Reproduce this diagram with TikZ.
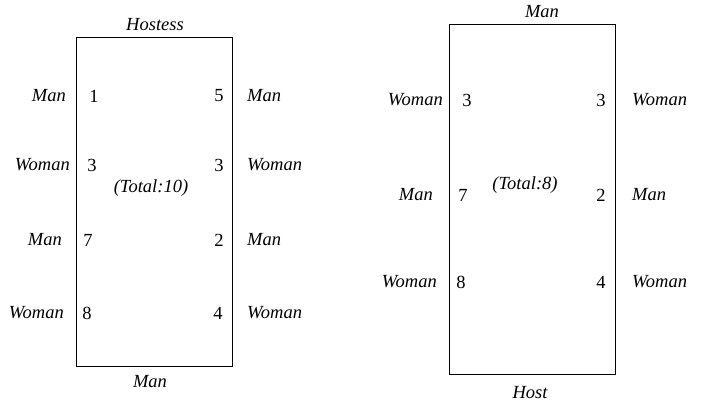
\documentclass[tikz,border=0pt]{standalone}
\usepackage{fontspec}
\setmainfont{Liberation Serif}
\begin{document}
\begin{tikzpicture}[x=1pt,y=-1pt,
  lab/.style={font=\fontsize{18.5}{22}\selectfont\itshape, inner sep=0pt},
  num/.style={font=\fontsize{18.5}{22}\selectfont, inner sep=0pt},
  tbl/.style={draw=black, line width=1pt}]
\useasboundingbox (0,0) rectangle (704,404);
% left table
\draw[tbl] (76,38) rectangle (232,366);
\node[lab] (lh) at (155,25) {Hostess};
\node[lab] (lb) at (150,382) {Man};
\node[lab,anchor=east] (l1) at (66,96) {Man};
\node[lab,anchor=east] (l2) at (70,165) {Woman};
\node[lab,anchor=east] (l3) at (62,240) {Man};
\node[lab,anchor=east] (l4) at (64,313) {Woman};
\node[num] (n1) at (94,96) {1};
\node[num] (n2) at (92,165) {3};
\node[num] (n3) at (88,240) {7};
\node[num] (n4) at (87,313) {8};
\node[num] (m1) at (219,96) {5};
\node[num] (m2) at (219,165) {3};
\node[num] (m3) at (219,240) {2};
\node[num] (m4) at (218,313) {4};
\node[lab,anchor=west] (r1) at (247,96) {Man};
\node[lab,anchor=west] (r2) at (247,165) {Woman};
\node[lab,anchor=west] (r3) at (247,240) {Man};
\node[lab,anchor=west] (r4) at (247,313) {Woman};
\node[lab] (lt) at (151,188) {(Total:10)};
% right table
\draw[tbl] (449,25) rectangle (615,374);
\node[lab] (rh) at (542,12) {Man};
\node[lab] (rb) at (530,393) {Host};
\node[lab,anchor=east] (s1) at (443,100) {Woman};
\node[lab,anchor=east] (s2) at (433,195) {Man};
\node[lab,anchor=east] (s3) at (437,282) {Woman};
\node[num] (p1) at (467,100) {3};
\node[num] (p2) at (463,195) {7};
\node[num] (p3) at (461,282) {8};
\node[num] (q1) at (601,100) {3};
\node[num] (q2) at (601,195) {2};
\node[num] (q3) at (601,282) {4};
\node[lab,anchor=west] (t1) at (632,100) {Woman};
\node[lab,anchor=west] (t2) at (632,195) {Man};
\node[lab,anchor=west] (t3) at (632,282) {Woman};
\node[lab] (rt) at (525,185) {(Total:8)};
\end{tikzpicture}
\end{document}
